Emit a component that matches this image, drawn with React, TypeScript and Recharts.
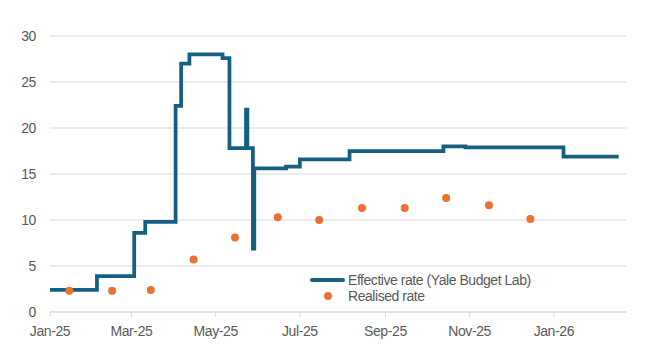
import {
  CartesianGrid,
  ComposedChart,
  Line,
  Scatter,
  XAxis,
  YAxis,
} from 'recharts';

// Effective tariff rate, each entry is the date a new level takes effect
const effectiveDates = [
  '2025-01-01', '2025-02-04', '2025-03-03', '2025-03-11', '2025-04-02',
  '2025-04-06', '2025-04-12', '2025-05-06', '2025-05-11', '2025-05-23',
  '2025-05-24', '2025-05-28', '2025-05-29', '2025-06-21', '2025-07-01',
  '2025-08-06', '2025-10-13', '2025-10-29', '2026-01-08', '2026-02-17',
];
const effectiveRates = [
  2.4, 3.9, 8.6, 9.8, 22.4,
  27.0, 28.0, 27.6, 17.8, 22.0,
  17.8, 6.9, 15.6, 15.8, 16.6,
  17.5, 18.0, 17.9, 16.9, 16.9,
];

// Realised rate (customs duties / imports), plotted mid-month
const realisedDates = [
  '2025-01-15', '2025-02-15', '2025-03-15', '2025-04-15', '2025-05-15', '2025-06-15',
  '2025-07-15', '2025-08-15', '2025-09-15', '2025-10-15', '2025-11-15', '2025-12-15',
];
const realisedRates = [2.3, 2.3, 2.4, 5.7, 8.1, 10.3, 10.0, 11.3, 11.3, 12.4, 11.6, 10.1];

const tickDates = ['2025-01-01', '2025-03-01', '2025-05-01', '2025-07-01', '2025-09-01', '2025-11-01', '2026-01-01'];
const tickLabels = ['Jan-25', 'Mar-25', 'May-25', 'Jul-25', 'Sep-25', 'Nov-25', 'Jan-26'];
const yTicks = [0, 5, 10, 15, 20, 25, 30];

const axisStart = '2025-01-01';
const axisEnd = '2026-02-23';

const BLUE = '#156082';
const ORANGE = '#E97132';
const TEXT = '#595959';
const GRID = '#d9d9d9';
const FONT = '"Liberation Sans", Arial, sans-serif';

const toTime = (d: string) => Date.parse(d + 'T00:00:00Z');

const effectiveData = effectiveDates.map((d, i) => ({ t: toTime(d), rate: effectiveRates[i] }));
const realisedData = realisedDates.map((d, i) => ({ t: toTime(d), rate: realisedRates[i] }));
const xTicks = tickDates.map(toTime);

const labelFor = (t: number) => {
  const i = xTicks.indexOf(t);
  return i >= 0 ? tickLabels[i] : '';
};

const tickStyle = { fontSize: 14, fill: TEXT, letterSpacing: -0.4 };

function Dot(props: any) {
  const { cx, cy } = props;
  if (cx == null || cy == null) return null;
  return <circle cx={cx} cy={cy} r={4} fill={ORANGE} />;
}

function LegendBox() {
  const textStyle = { fontSize: 14, color: TEXT, fontFamily: FONT, letterSpacing: -0.45, lineHeight: '16px' };
  return (
    <div style={{ position: 'absolute', left: 310, top: 272, display: 'flex', flexDirection: 'column' }}>
      <div style={{ display: 'flex', alignItems: 'center', height: 16 }}>
        <div style={{ width: 35, height: 4, background: BLUE, borderRadius: 2, marginRight: 3 }} />
        <span style={textStyle}>Effective rate (Yale Budget Lab)</span>
      </div>
      <div style={{ display: 'flex', alignItems: 'center', height: 16 }}>
        <div style={{ width: 35, marginRight: 3, display: 'flex', justifyContent: 'center' }}>
          <div style={{ width: 8, height: 8, borderRadius: 4, background: ORANGE }} />
        </div>
        <span style={textStyle}>Realised rate</span>
      </div>
    </div>
  );
}

export default function App() {
  return (
    <div style={{ position: 'absolute', left: 0, top: 0, width: 648, height: 350, background: '#fff' }}>
      <ComposedChart
        width={648}
        height={350}
        margin={{ top: 36, right: 21, bottom: 8, left: 0 }}
        style={{ fontFamily: FONT }}
      >
        <CartesianGrid horizontal vertical={false} stroke={GRID} strokeWidth={1} />
        <XAxis
          dataKey="t"
          type="number"
          scale="time"
          domain={[toTime(axisStart), toTime(axisEnd)]}
          ticks={xTicks}
          tickFormatter={labelFor}
          height={30}
          axisLine={{ stroke: GRID }}
          tickLine={{ stroke: GRID }}
          tickSize={5}
          tickMargin={9}
          tick={tickStyle}
          allowDataOverflow
        />
        <YAxis
          type="number"
          domain={[0, 30]}
          ticks={yTicks}
          width={50}
          axisLine={false}
          tickLine={false}
          tickSize={0}
          tickMargin={14}
          tick={tickStyle}
        />
        <Line
          data={effectiveData}
          dataKey="rate"
          type="stepAfter"
          stroke={BLUE}
          strokeWidth={3.75}
          dot={false}
          activeDot={false}
          isAnimationActive={false}
          name="Effective rate (Yale Budget Lab)"
        />
        <Scatter
          data={realisedData}
          dataKey="rate"
          fill={ORANGE}
          shape={<Dot />}
          isAnimationActive={false}
          name="Realised rate"
        />
      </ComposedChart>
      <LegendBox />
    </div>
  );
}
